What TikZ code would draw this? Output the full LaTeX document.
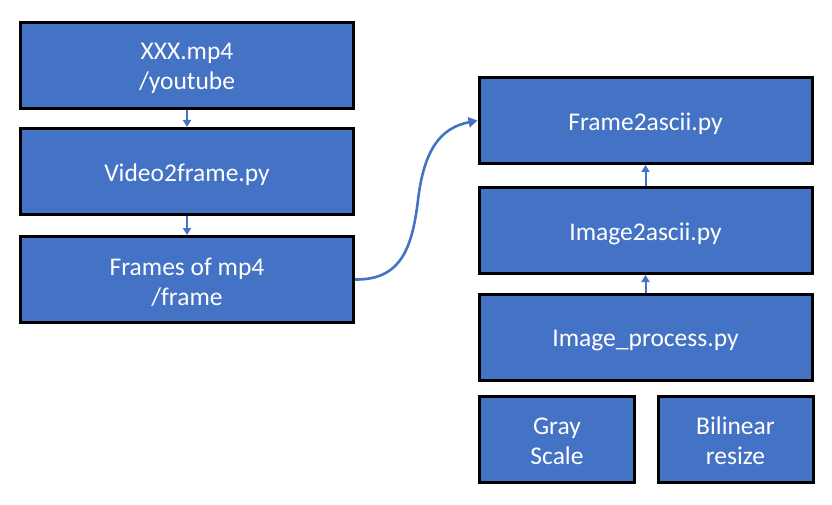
\documentclass[tikz,border=0pt]{standalone}
\usepackage{fontspec}
\setmainfont{Carlito}
\usetikzlibrary{arrows.meta}
\definecolor{boxblue}{HTML}{4472C4}
\definecolor{arrblue}{HTML}{4472C4}
\begin{document}
\begin{tikzpicture}[x=1pt,y=-1pt,
  blk/.style={draw=black, line width=3pt, fill=boxblue, inner sep=0pt, minimum height=86pt},
  wide/.style={blk, minimum width=333pt},
  small/.style={blk, minimum width=155pt},
  txt/.style={text=white, align=center, font=\fontsize{25.5}{30}\selectfont, inner sep=0pt},
  link/.style={draw=arrblue, line width=2pt, -{Triangle[width=8pt,length=7pt]}},
  curvelink/.style={draw=arrblue, line width=2.6pt, -{Triangle[width=10pt,length=9pt]}}]
\useasboundingbox (0,0) rectangle (832,505);
\node[wide] (a) at (187,65.5) {};
\node[wide] (b) at (187,171.5) {};
\node[wide] (c) at (187,279.5) {};
\node[wide] (d) at (645.5,120.5) {};
\node[wide] (e) at (645.5,230.5) {};
\node[wide] (f) at (645.5,337.5) {};
\node[small] (g) at (557,439) {};
\node[small] (h) at (735.5,439) {};
\node[txt] (at) at ([yshift=-3pt]a.center) {XXX.mp4\\/youtube};
\node[txt] (bt) at ([yshift=-3pt]b.center) {Video2frame.py};
\node[txt] (ct) at ([yshift=-3pt]c.center) {Frames of mp4\\/frame};
\node[txt] (dt) at ([yshift=-3pt]d.center) {Frame2ascii.py};
\node[txt] (et) at ([yshift=-3pt]e.center) {Image2ascii.py};
\node[txt] (ft) at ([yshift=-3pt]f.center) {Image\_process.py};
\node[txt] (gt) at ([yshift=-2pt]g.center) {Gray\\Scale};
\node[txt] (ht) at ([yshift=-2pt]h.center) {Bilinear\\resize};
\draw[link] (a.south) -- (b.north);
\draw[link] (b.south) -- (c.north);
\draw[link] (f.north) -- (e.south);
\draw[link] (e.north) -- (d.south);
\draw[curvelink] (c.east) .. controls (400,280) and (412,250) .. (418,200)
  .. controls (424,150) and (440,128) .. (d.west);
\end{tikzpicture}
\end{document}
